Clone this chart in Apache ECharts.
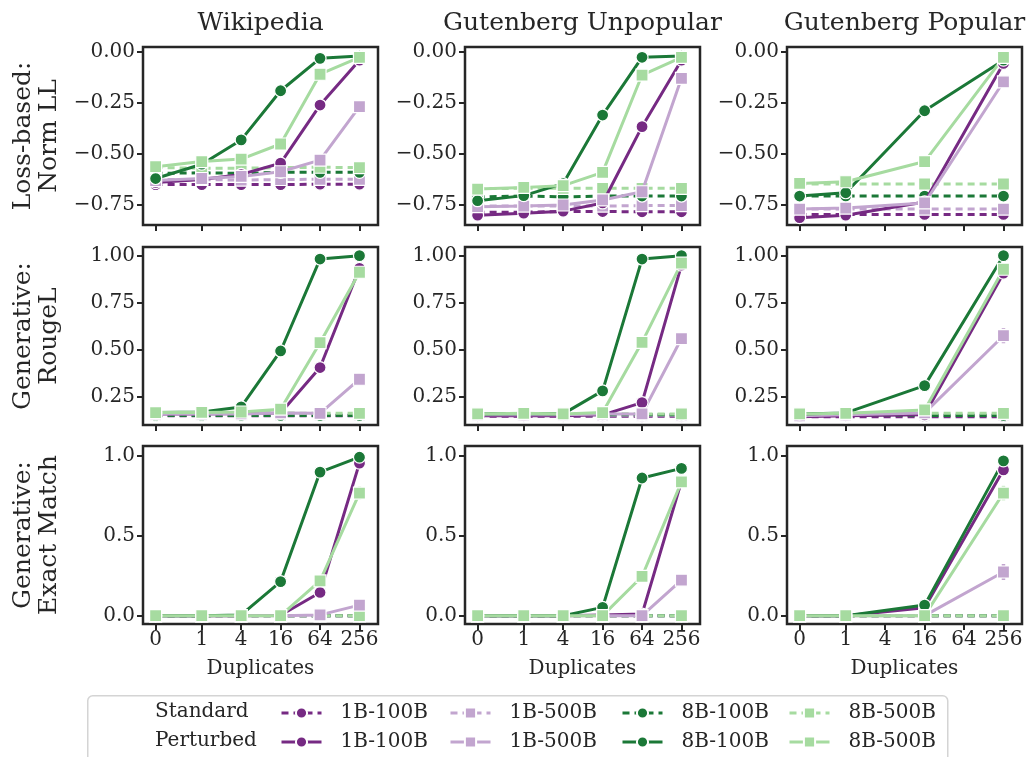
<!DOCTYPE html>
<html>
<head>
<meta charset="utf-8">
<script src="https://cdn.jsdelivr.net/npm/echarts@6/dist/echarts.min.js"></script>
<style>
  html, body { margin: 0; padding: 0; background: #fff; }
  #chart { width: 1031px; height: 757px; }
</style>
</head>
<body>
<div id="chart"></div>
<script>
// Memorisation metrics vs. number of duplicates, three corpora x three metrics.
const duplicates = [0, 1, 4, 16, 64, 256];
const models = ['1B-100B', '1B-500B', '8B-100B', '8B-500B'];
const datasets = ['Wikipedia', 'Gutenberg Unpopular', 'Gutenberg Popular'];
const metricLabels = ['Loss-based:\nNorm LL', 'Generative:\nRougeL', 'Generative:\nExact Match'];
const llTicks = [-0.75, -0.5, -0.25, 0];
const rougeTicks = [0.25, 0.5, 0.75, 1.0];
const emTicks = [0, 0.5, 1.0];

// rows: 1B-100B, 1B-500B, 8B-100B, 8B-500B; columns follow `duplicates`
const wikiLLStandard = [
  [-0.65, -0.65, -0.65, -0.65, -0.648, -0.648],
  [-0.625, -0.625, -0.628, -0.625, -0.624, -0.624],
  [-0.595, -0.592, -0.595, -0.59, -0.59, -0.59],
  [-0.566, -0.57, -0.57, -0.567, -0.565, -0.567]
];
const wikiLLPerturbed = [
  [-0.64, -0.625, -0.6, -0.545, -0.26, -0.04],
  [-0.63, -0.62, -0.61, -0.587, -0.53, -0.268],
  [-0.62, -0.55, -0.431, -0.19, -0.031, -0.02],
  [-0.562, -0.537, -0.525, -0.451, -0.109, -0.026]
];
const unpopLLStandard = [
  [-0.785, -0.785, -0.782, -0.782, -0.783, -0.783],
  [-0.755, -0.755, -0.755, -0.755, -0.753, -0.753],
  [-0.71, -0.706, -0.71, -0.706, -0.706, -0.706],
  [-0.67, -0.668, -0.668, -0.668, -0.668, -0.668]
];
const unpopLLPerturbed = [
  [-0.8, -0.79, -0.78, -0.74, -0.366, -0.04],
  [-0.758, -0.755, -0.75, -0.725, -0.685, -0.129],
  [-0.729, -0.704, -0.645, -0.309, -0.026, -0.02],
  [-0.672, -0.664, -0.655, -0.59, -0.113, -0.026]
];
const popLLStandard = [
  [-0.796, -0.796, null, -0.796, null, -0.796],
  [-0.77, -0.77, null, -0.77, null, -0.77],
  [-0.706, -0.706, null, -0.706, null, -0.706],
  [-0.647, -0.647, null, -0.647, null, -0.647]
];
const popLLPerturbed = [
  [-0.812, -0.8, null, -0.735, null, -0.056],
  [-0.77, -0.765, null, -0.74, null, -0.146],
  [-0.706, -0.69, null, -0.288, null, -0.04],
  [-0.644, -0.636, null, -0.537, null, -0.026]
];

const wikiRLStandard = [
  [0.15, 0.15, 0.15, 0.15, 0.15, 0.15],
  [0.155, 0.155, 0.155, 0.155, 0.155, 0.155],
  [0.152, 0.152, 0.152, 0.152, 0.152, 0.152],
  [0.163, 0.165, 0.165, 0.165, 0.163, 0.163]
];
const wikiRLPerturbed = [
  [0.16, 0.16, 0.162, 0.165, 0.406, 0.933],
  [0.16, 0.16, 0.16, 0.165, 0.163, 0.344],
  [0.167, 0.17, 0.197, 0.494, 0.982, 1.0],
  [0.167, 0.168, 0.17, 0.185, 0.538, 0.912]
];
const unpopRLStandard = [
  [0.148, 0.148, 0.148, 0.148, 0.148, 0.148],
  [0.153, 0.153, 0.153, 0.153, 0.153, 0.153],
  [0.155, 0.155, 0.155, 0.155, 0.155, 0.155],
  [0.16, 0.162, 0.16, 0.162, 0.16, 0.16]
];
const unpopRLPerturbed = [
  [0.15, 0.15, 0.15, 0.155, 0.22, 0.95],
  [0.155, 0.155, 0.155, 0.16, 0.16, 0.56],
  [0.16, 0.162, 0.16, 0.282, 0.982, 1.0],
  [0.16, 0.163, 0.16, 0.167, 0.54, 0.96]
];
const popRLStandard = [
  [0.145, 0.145, null, 0.145, null, 0.145],
  [0.155, 0.155, null, 0.155, null, 0.155],
  [0.152, 0.152, null, 0.152, null, 0.152],
  [0.16, 0.163, null, 0.163, null, 0.163]
];
const popRLPerturbed = [
  [0.145, 0.15, null, 0.155, null, 0.907],
  [0.15, 0.155, null, 0.165, null, 0.575],
  [0.16, 0.165, null, 0.31, null, 1.0],
  [0.16, 0.163, null, 0.181, null, 0.928]
];

const wikiEMStandard = [
  [0, 0, 0, 0, 0, 0],
  [0, 0, 0, 0, 0, 0],
  [0, 0, 0, 0, 0, 0],
  [0, 0, 0, 0, 0, 0]
];
const wikiEMPerturbed = [
  [0, 0, 0, 0.003, 0.145, 0.953],
  [0, 0, 0, 0, 0.005, 0.066],
  [0, 0, 0.005, 0.213, 0.897, 0.99],
  [0, 0, 0, 0, 0.217, 0.766]
];
const unpopEMStandard = [
  [0, 0, 0, 0, 0, 0],
  [0, 0, 0, 0, 0, 0],
  [0, 0, 0, 0, 0, 0],
  [0, 0, 0, 0, 0, 0]
];
const unpopEMPerturbed = [
  [0, 0, 0, 0.005, 0.01, 0.84],
  [0, 0, 0, 0, 0, 0.222],
  [0, 0, 0, 0.052, 0.86, 0.92],
  [0, 0, 0, 0, 0.245, 0.836]
];
const popEMStandard = [
  [0, 0, null, 0, null, 0],
  [0, 0, null, 0, null, 0],
  [0, 0, null, 0, null, 0],
  [0, 0, null, 0, null, 0]
];
const popEMPerturbed = [
  [0, 0, null, 0.05, null, 0.911],
  [0, 0, null, 0, null, 0.273],
  [0, 0, null, 0.066, null, 0.967],
  [0, 0, null, 0, null, 0.766]
];

// half-width of the spread at 256 duplicates (perturbed runs): [metric row, dataset column, model, half-width]
const spread256 = [
  [1, 0, 1, 0.03], [1, 1, 1, 0.03], [1, 2, 1, 0.04], [1, 0, 3, 0.02],
  [2, 0, 3, 0.04], [2, 0, 1, 0.015], [2, 1, 1, 0.03], [2, 1, 3, 0.03],
  [2, 2, 1, 0.05], [2, 2, 3, 0.045], [2, 2, 0, 0.02]
];

// panel grid: [metric row][dataset column] -> [standard, perturbed]
const panels = [
  [[wikiLLStandard, wikiLLPerturbed], [unpopLLStandard, unpopLLPerturbed], [popLLStandard, popLLPerturbed]],
  [[wikiRLStandard, wikiRLPerturbed], [unpopRLStandard, unpopRLPerturbed], [popRLStandard, popRLPerturbed]],
  [[wikiEMStandard, wikiEMPerturbed], [unpopEMStandard, unpopEMPerturbed], [popEMStandard, popEMPerturbed]]
];

const FONT = 'DejaVu Serif';
const INK = '#262626';
const colors = ['#762a83', '#c2a5cf', '#1b7837', '#a6dba0'];
const gridLeft = [143, 465, 787];
const gridTop = [47, 247, 446];
const gridW = 235, gridH = 178;

// symmetric-log style placement of duplicate counts (linear below 1, log4 above)
const LIN = 1.17;
function xPos(d) { return d <= 1 ? d * LIN : LIN + Math.log(d) / Math.log(4); }

const rowAxes = [
  { min: -0.848, max: 0.0245, ticks: llTicks, digits: 2 },
  { min: 0.101, max: 1.046, ticks: rougeTicks, digits: 2 },
  { min: -0.052, max: 1.06, ticks: emTicks, digits: 1 }
];

const grids = [], xAxes = [], yAxes = [], series = [];
for (let r = 0; r < 3; r++) {
  for (let c = 0; c < 3; c++) {
    const idx = r * 3 + c;
    grids.push({
      left: gridLeft[c], top: gridTop[r], width: gridW, height: gridH,
      show: true, borderColor: INK, borderWidth: 2.5, backgroundColor: 'transparent'
    });
    const xTicks = duplicates.map(xPos);
    xAxes.push({
      type: 'value', gridIndex: idx, min: -0.32, max: 5.64,
      splitLine: { show: false },
      axisLine: { show: false, onZero: false },
      axisTick: { show: true, length: 6, lineStyle: { color: INK, width: 2 }, customValues: xTicks },
      axisLabel: {
        show: r === 2, customValues: xTicks, margin: 6,
        fontFamily: FONT, fontSize: 20, color: INK,
        formatter: v => {
          const k = xTicks.findIndex(t => Math.abs(t - v) < 1e-6);
          return k >= 0 ? String(duplicates[k]) : '';
        }
      },
      name: r === 2 ? 'Duplicates' : '',
      nameLocation: 'middle', nameGap: 35,
      nameTextStyle: { fontFamily: FONT, fontSize: 20, color: INK }
    });
    const ra = rowAxes[r];
    yAxes.push({
      type: 'value', gridIndex: idx, min: ra.min, max: ra.max,
      splitLine: { show: false },
      axisLine: { show: false, onZero: false },
      axisTick: { show: true, length: 6, lineStyle: { color: INK, width: 2 }, customValues: ra.ticks },
      axisLabel: {
        customValues: ra.ticks, margin: 8,
        fontFamily: FONT, fontSize: 20, color: INK,
        formatter: v => v.toFixed(ra.digits).replace('-', '\u2212')
      },
      name: c === 0 ? metricLabels[r] : '',
      nameLocation: 'middle', nameRotate: 90, nameGap: 81,
      nameTextStyle: { fontFamily: FONT, fontSize: 25, color: INK, lineHeight: 26, align: 'center' }
    });
    const [std, pert] = panels[r][c];
    [['Standard', std], ['Perturbed', pert]].forEach(([kind, rows], kIdx) => {
      rows.forEach((vals, m) => {
        const pts = [];
        duplicates.forEach((d, j) => { if (vals[j] != null) pts.push([xPos(d), vals[j]]); });
        series.push({
          type: 'line', name: kind + ' ' + models[m],
          xAxisIndex: idx, yAxisIndex: idx,
          data: pts,
          symbol: m % 2 === 0 ? 'circle' : 'rect',
          symbolSize: 12,
          showSymbol: true,
          lineStyle: { color: colors[m], width: 3, type: kIdx === 0 ? [7, 5] : 'solid' },
          itemStyle: { color: colors[m], borderColor: '#fff', borderWidth: 1.2 },
          emphasis: { disabled: true },
          z: 2 + kIdx,
          animation: false
        });
      });
    });
    // vertical spread bars at the last duplicate count
    const bars = spread256.filter(e => e[0] === r && e[1] === c).map(e => {
      const v = panels[r][c][1][e[2]][5];
      return [xPos(256), v - e[3], v + e[3], e[2]];
    });
    if (bars.length) {
      series.push({
        type: 'custom', xAxisIndex: idx, yAxisIndex: idx, z: 2,
        silent: true, animation: false,
        data: bars,
        renderItem: (params, api) => {
          const lo = api.coord([api.value(0), api.value(1)]);
          const hi = api.coord([api.value(0), api.value(2)]);
          return {
            type: 'line',
            shape: { x1: lo[0], y1: lo[1], x2: hi[0], y2: hi[1] },
            style: { stroke: colors[api.value(3)], lineWidth: 3.5 }
          };
        }
      });
    }
  }
}

// legend: one entry per component so each can sit in its own column
const legendIconLeft = [280, 449, 621, 788];
const legendRowY = [712, 741];
const legends = [];
['Standard', 'Perturbed'].forEach((kind, r) => {
  models.forEach((m, k) => {
    legends.push({
      left: legendIconLeft[k], top: legendRowY[r] - 9, padding: 0,
      itemWidth: 40, itemHeight: 14, itemGap: 0,
      data: [kind + ' ' + m],
      formatter: n => n.split(' ')[1],
      lineStyle: { width: 3 },
      textStyle: { fontFamily: FONT, fontSize: 20, color: INK, padding: [0, 0, 0, 14] },
      selectedMode: false
    });
  });
});

const graphic = [
  {
    type: 'rect', left: 87, top: 695, silent: true,
    shape: { width: 860, height: 90, r: 5 },
    style: { fill: '#fff', stroke: '#d4d4d4', lineWidth: 1.5 }, z: 0
  },
  { type: 'text', x: 155, y: legendRowY[0], style: { text: 'Standard', font: '20px "DejaVu Serif"', fill: INK, verticalAlign: 'middle' } },
  { type: 'text', x: 155, y: legendRowY[1], style: { text: 'Perturbed', font: '20px "DejaVu Serif"', fill: INK, verticalAlign: 'middle' } }
];
datasets.forEach((t, c) => {
  graphic.push({
    type: 'text', x: gridLeft[c] + gridW / 2, y: 23,
    style: { text: t, font: '25px "DejaVu Serif"', fill: INK, align: 'center', verticalAlign: 'middle' }
  });
});

const chart = echarts.init(document.getElementById('chart'), null, { renderer: 'canvas' });
chart.setOption({
  backgroundColor: '#fff',
  animation: false,
  grid: grids, xAxis: xAxes, yAxis: yAxes, series,
  legend: legends,
  graphic
});
</script>
</body>
</html>
